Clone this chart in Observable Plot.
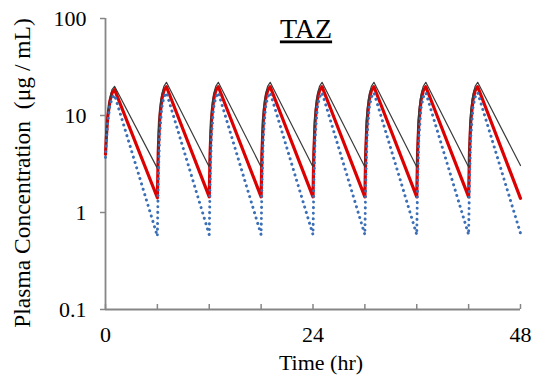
<!DOCTYPE html>
<html>
<head>
<meta charset="utf-8">
<script src="https://cdn.jsdelivr.net/npm/d3@7"></script>
<script src="https://cdn.jsdelivr.net/npm/@observablehq/plot@0.6"></script>
<style>
  html, body { margin: 0; padding: 0; background: #fff; }
  #chart { width: 536px; height: 381px; }
  #chart svg, #chart svg text { font-family: 'Liberation Serif', 'Times New Roman', Times, serif !important; }
</style>
</head>
<body>
<div id="chart"></div>
<script>
const title = "TAZ";
const xLabel = "Time (hr)";
const yLabel = "Plasma Concentration  (\u03bcg / mL)";
const xTickLabels = [0, 24, 48];
const xMinorTicks = [0, 6, 12, 18, 24, 30, 36, 42, 48];
const yTicks = [0.1, 1, 10, 100];

// time points (hr): each dose cycle = trough, rapid rise, peak
const hours = [
  0, 0.1, 0.25, 0.5, 0.75, 1.05,
  6, 6.1, 6.25, 6.5, 6.75, 7.05,
  12, 12.1, 12.25, 12.5, 12.75, 13.05,
  18, 18.1, 18.25, 18.5, 18.75, 19.05,
  24, 24.1, 24.25, 24.5, 24.75, 25.05,
  30, 30.1, 30.25, 30.5, 30.75, 31.05,
  36, 36.1, 36.25, 36.5, 36.75, 37.05,
  42, 42.1, 42.25, 42.5, 42.75, 43.05,
  48
];
// black thin line
const seriesBlack = [
  4.0, 6.5, 10.5, 15.0, 18.5, 20.0,
  2.85, 6.5, 11.5, 16.5, 20.0, 22.0,
  2.95, 6.6, 11.6, 16.6, 20.0, 22.0,
  2.95, 6.6, 11.6, 16.6, 20.0, 22.0,
  2.95, 6.6, 11.6, 16.6, 20.0, 22.0,
  2.95, 6.6, 11.6, 16.6, 20.0, 22.0,
  2.95, 6.6, 11.6, 16.6, 20.0, 22.0,
  2.95, 6.6, 11.6, 16.6, 20.0, 22.0,
  3.05
];
// red thick line
const seriesRed = [
  4.0, 6.0, 9.5, 14.0, 17.0, 18.5,
  1.42, 4.2, 8.8, 14.5, 18.0, 19.8,
  1.45, 4.2, 8.8, 14.5, 18.0, 19.8,
  1.45, 4.2, 8.8, 14.5, 18.0, 19.8,
  1.45, 4.2, 8.8, 14.5, 18.0, 19.8,
  1.45, 4.2, 8.8, 14.5, 18.0, 19.8,
  1.45, 4.2, 8.8, 14.5, 18.0, 19.8,
  1.45, 4.2, 8.8, 14.5, 18.0, 19.8,
  1.40
];
// blue dotted line
const seriesBlue = [
  3.7, 5.5, 8.5, 12.5, 15.0, 16.3,
  0.57, 2.0, 6.0, 12.0, 15.5, 17.2,
  0.59, 2.0, 6.0, 12.0, 15.5, 17.2,
  0.59, 2.0, 6.0, 12.0, 15.5, 17.2,
  0.59, 2.0, 6.0, 12.0, 15.5, 17.2,
  0.59, 2.0, 6.0, 12.0, 15.5, 17.2,
  0.59, 2.0, 6.0, 12.0, 15.5, 17.2,
  0.59, 2.0, 6.0, 12.0, 15.5, 17.2,
  0.61
];

const black = hours.map((t, i) => ({t, c: seriesBlack[i]}));
const red = hours.map((t, i) => ({t, c: seriesRed[i]}));
const blue = hours.map((t, i) => ({t, c: seriesBlue[i]}));

const serif = "'Liberation Serif', 'Times New Roman', Times, serif";
const axisColor = "#868686";

const chart = Plot.plot({
  width: 536,
  height: 381,
  marginLeft: 105,
  marginRight: 16,
  marginTop: 18,
  marginBottom: 72,
  style: {fontFamily: serif, background: "#fff", color: "#000"},
  x: {domain: [0, 48]},
  y: {type: "log", domain: [0.1, 100]},
  marks: [
    Plot.axisY(yTicks, {tickSize: 5, tickPadding: 14, fontSize: 22, fontFamily: serif, tickFormat: d => String(d), stroke: axisColor, strokeWidth: 1.5, label: null, fill: "#000"}),
    Plot.axisX(xMinorTicks, {tickSize: -5, tickFormat: () => "", stroke: axisColor, strokeWidth: 1.5, label: null}),
    Plot.axisX(xTickLabels, {tickSize: 0, tickPadding: 17, fontSize: 22, fontFamily: serif, tickFormat: d => String(d), label: null, fill: "#000"}),
    Plot.ruleX([0], {stroke: axisColor, strokeWidth: 1.8}),
    Plot.ruleY([0.1], {stroke: axisColor, strokeWidth: 1.8}),
    Plot.line(red, {x: "t", y: "c", stroke: "#dd0000", strokeWidth: 3.2}),
    Plot.line(black, {x: "t", y: "c", stroke: "#3a3a3a", strokeWidth: 1.2}),
    Plot.line(blue, {x: "t", y: "c", stroke: "#3b6fb6", strokeWidth: 3, strokeDasharray: "0.1,5.5", strokeLinecap: "round"}),
    Plot.text([title], {frameAnchor: "top", dx: -7, dy: 11, lineAnchor: "middle", fontSize: 28, fontFamily: serif, fill: "#000", className: "ttl"}),
    Plot.text([xLabel], {frameAnchor: "bottom", dx: 8, dy: 53, lineAnchor: "middle", fontSize: 22, fontFamily: serif, fill: "#000"}),
    Plot.text([yLabel], {frameAnchor: "left", textAnchor: "middle", rotate: -90, dx: -83, dy: 9, lineAnchor: "middle", fontSize: 23.5, fontFamily: serif, fill: "#000"})
  ]
});
d3.select(chart).selectAll(".ttl text").attr("text-decoration", "underline");
document.getElementById("chart").appendChild(chart);
</script>
</body>
</html>
